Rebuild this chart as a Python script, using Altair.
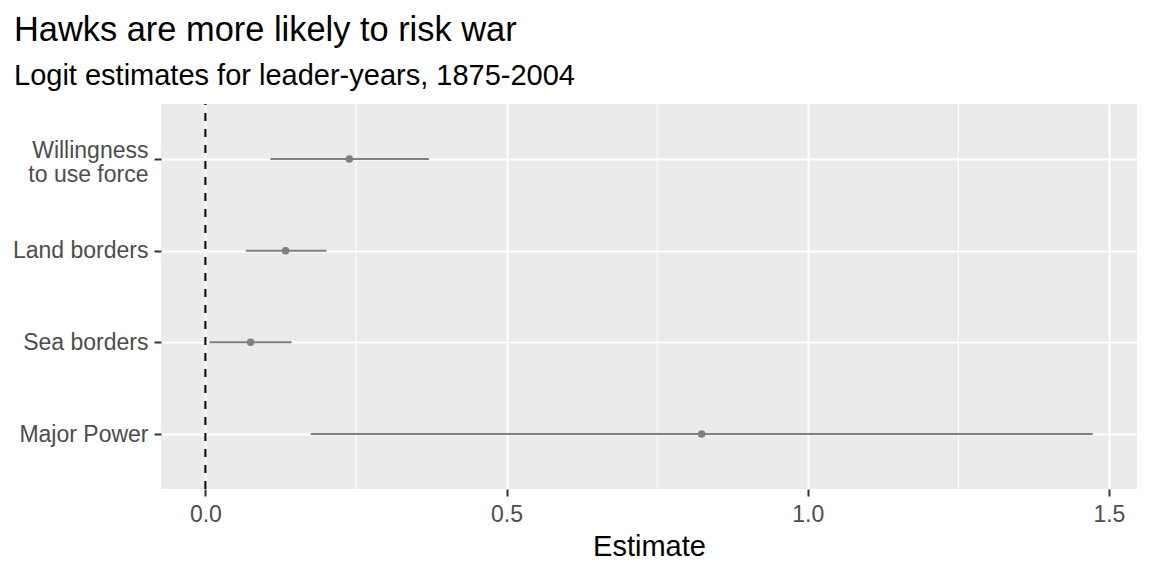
import altair as alt
import pandas as pd

terms = ["Willingness|to use force", "Land borders", "Sea borders", "Major Power"]
estimate = [0.239, 0.133, 0.075, 0.824]
lower = [0.108, 0.067, 0.007, 0.175]
upper = [0.371, 0.201, 0.143, 1.473]
x_ticks = [0.0, 0.5, 1.0, 1.5]
x_minor = [0.25, 0.75, 1.25]
x_domain = [-0.0737, 1.5467]

df = pd.DataFrame({"term": terms, "estimate": estimate, "lower": lower, "upper": upper})
minor_df = pd.DataFrame({"v": x_minor})
zero_df = pd.DataFrame({"v": [0.0]})

FONT = "Liberation Sans"
GREY = "#7F7F7F"

xscale = alt.Scale(domain=x_domain, nice=False, zero=False)
yscale = alt.Scale(type="point", domain=terms, padding=0.6)

xaxis = alt.Axis(values=x_ticks, format=".1f", title="Estimate", grid=True,
                 gridColor="white", gridWidth=2, domain=False, tickColor="#333333",
                 tickSize=7, tickWidth=2, labelFontSize=23, labelColor="#4D4D4D",
                 labelFont=FONT, labelPadding=7, titleFont=FONT, titleFontSize=29,
                 titleFontWeight="normal", titleColor="black", titlePadding=6)
yaxis = alt.Axis(title=None, grid=True, gridColor="white", gridWidth=2, domain=False,
                 tickColor="#333333", tickSize=7, tickWidth=2, labelFontSize=23,
                 labelColor="#4D4D4D", labelFont=FONT, labelPadding=6,
                 labelLineHeight=24, labelExpr="split(datum.label, '|')",
                 labelOffset=alt.condition("indexof(datum.value, '|') >= 0",
                                           alt.value(-9), alt.value(0)))

minor = alt.Chart(minor_df).mark_rule(color="white", strokeWidth=1).encode(
    x=alt.X("v:Q", scale=xscale, axis=xaxis)
)

bars = alt.Chart(df).mark_rule(color=GREY, strokeWidth=2).encode(
    x=alt.X("lower:Q", scale=xscale, axis=xaxis),
    x2="upper:Q",
    y=alt.Y("term:N", scale=yscale, axis=yaxis, sort=terms),
)

zero = alt.Chart(zero_df).mark_rule(color="black", strokeWidth=2, strokeDash=[8, 8],
                                     strokeDashOffset=7).encode(
    x=alt.X("v:Q", scale=xscale, axis=xaxis)
)

points = alt.Chart(df).mark_point(filled=True, color=GREY, opacity=1, size=56).encode(
    x=alt.X("estimate:Q", scale=xscale, axis=xaxis),
    y=alt.Y("term:N", scale=yscale, axis=yaxis, sort=terms),
)

chart = alt.layer(minor, zero, bars, points).properties(
    width=976,
    height=385,
    background="white",
    title=alt.TitleParams(
        text="Hawks are more likely to risk war",
        subtitle="Logit estimates for leader-years, 1875-2004",
        anchor="start", frame="group", dx=-147,
        font=FONT, fontSize=34.4, fontWeight="normal", color="black",
        subtitleFont=FONT, subtitleFontSize=29, subtitleColor="black",
        offset=11, subtitlePadding=14,
    ),
    autosize=alt.AutoSizeParams(type="none"),
    padding={"left": 153, "top": 96, "right": 7, "bottom": 79},
).configure_view(fill="#EBEBEB", strokeWidth=0)

chart.save("out.html", embed_options={"renderer": "svg", "actions": False})
